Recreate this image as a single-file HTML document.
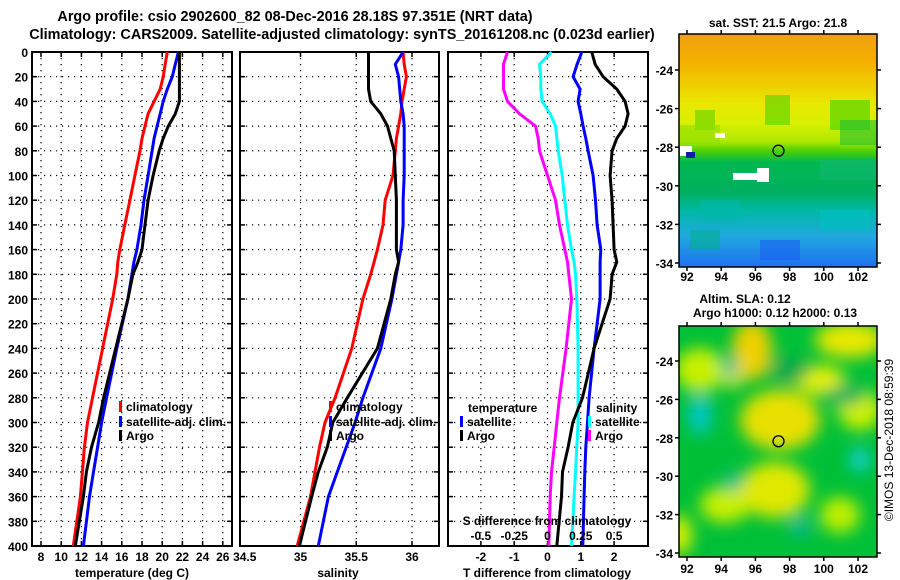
<!DOCTYPE html>
<html><head><meta charset="utf-8"><style>
body{margin:0;background:#fff}
svg{display:block;font-family:"Liberation Sans",sans-serif;font-weight:bold}
</style></head><body>
<svg id="c" width="900" height="580" viewBox="0 0 900 580">
<defs>
<linearGradient id="sstg" x1="0" y1="0" x2="0" y2="1">
<stop offset="0" stop-color="#f0a010"/><stop offset="0.12" stop-color="#f4b000"/><stop offset="0.2" stop-color="#f0c800"/>
<stop offset="0.3" stop-color="#e8e800"/><stop offset="0.38" stop-color="#d8f000"/><stop offset="0.46" stop-color="#b0e800"/><stop offset="0.5" stop-color="#50d000"/>
<stop offset="0.55" stop-color="#00b850"/><stop offset="0.68" stop-color="#00b060"/><stop offset="0.76" stop-color="#00b8a8"/>
<stop offset="0.87" stop-color="#20a8e0"/><stop offset="1" stop-color="#2070f0"/></linearGradient>
<filter id="blur" x="-50%" y="-50%" width="200%" height="200%"><feGaussianBlur stdDeviation="8"/></filter>
<clipPath id="clipB"><rect x="679" y="326" width="198" height="231"/></clipPath>
</defs>
<g id="root"></g>
</svg>
<script>
// ---- data ----
const depths = [0,10,20,30,40,50,60,70,80,100,120,140,160,170,180,200,240,280,300,320,340,360,400];
const tClim = [20.5,20.3,20.1,19.8,19.2,18.6,18.3,18.0,17.8,17.3,16.8,16.3,15.8,15.6,15.5,15.1,14.1,13.1,12.6,12.3,12.1,11.9,11.2];
const tSat  = [21.6,21.3,21.0,20.5,20.1,19.8,19.5,19.2,19.0,18.6,18.2,17.9,17.5,17.2,17.0,16.6,15.5,14.5,14.0,13.6,13.2,12.8,12.2];
const tArgo = [21.7,21.7,21.7,21.7,21.7,21.3,20.6,20.1,19.7,19.1,18.6,18.3,18.0,17.6,17.1,16.6,15.4,14.2,13.7,13.0,12.5,12.2,11.4];
const sClim = [35.92,35.93,35.95,35.93,35.91,35.9,35.88,35.86,35.85,35.83,35.76,35.74,35.69,35.66,35.63,35.56,35.46,35.31,35.22,35.17,35.13,35.09,34.97];
const sSat  = [35.92,35.85,35.88,35.89,35.9,35.92,35.93,35.93,35.93,35.93,35.92,35.92,35.9,35.88,35.86,35.82,35.72,35.56,35.49,35.41,35.33,35.25,35.16];
const sArgo = [35.61,35.61,35.61,35.61,35.63,35.72,35.78,35.81,35.84,35.85,35.86,35.86,35.86,35.88,35.85,35.81,35.69,35.42,35.29,35.24,35.16,35.1,34.99];
const dSArgo = [-0.30,-0.33,-0.33,-0.33,-0.30,-0.21,-0.09,-0.07,-0.06,0.0,0.06,0.09,0.13,0.15,0.16,0.18,0.14,0.09,0.07,0.05,0.03,0.02,0.01];
const dSSat  = [0.03,-0.06,-0.05,-0.05,-0.04,0.02,0.06,0.07,0.08,0.11,0.13,0.15,0.18,0.2,0.21,0.22,0.23,0.23,0.23,0.22,0.21,0.2,0.18];
const dTSat  = [1.03,0.89,0.77,0.98,0.92,1.0,1.07,1.15,1.22,1.37,1.44,1.49,1.6,1.58,1.58,1.58,1.4,1.25,1.2,1.15,1.12,1.1,1.06];
const dTArgo = [1.33,1.43,1.67,2.08,2.33,2.42,2.33,2.08,1.94,1.88,1.94,1.97,2.0,2.08,1.94,1.88,1.4,1.05,0.76,0.62,0.45,0.42,0.28];
const tTicks = [8,10,12,14,16,18,20,22,24,26];
const sTicks = [34.5,35,35.5,36];
const dTTicks = [-2,-1,0,1,2];
const dSTicks = [-0.5,-0.25,0,0.25,0.5];
const dSTickLabels = ['-0.5','-0.25','0','0.25','0.5'];
const depthTicks = [0,20,40,60,80,100,120,140,160,180,200,220,240,260,280,300,320,340,360,380,400];
const latTicks = [-24,-26,-28,-30,-32,-34];
const lonTicks = [92,94,96,98,100,102];

const NS='http://www.w3.org/2000/svg';
const root=document.getElementById('root');
function el(tag,attrs,parent){const e=document.createElementNS(NS,tag);for(const k in attrs)e.setAttribute(k,attrs[k]);(parent||root).appendChild(e);return e;}
function txt(x,y,s,size,anchor,fill,parent){const t=el('text',{x:x,y:y,'font-size':size,'text-anchor':anchor||'middle',fill:fill||'#000'},parent);t.textContent=s;return t;}

const yD = d => 52 + d*(494/400);
const xT = t => 41 + (t-8)*10.1;
const xS = s => 300.5 + (s-35)*111.5;
const xdT = v => 547.5 + v*33.3;
const xdS = v => 547.5 + v*133.2;

function panel(name,x0,x1,gridXs){
  const g=el('g',{});
  
  
  for(const d of depthTicks){ if(d>0&&d<400){ const gl=el('line',{x1:x0,x2:x1,y1:yD(d),y2:yD(d),stroke:'#000','stroke-width':1.2,'stroke-dasharray':'1.2,4.8'},g);  }
    el('line',{x1:x0,x2:x0+5,y1:yD(d),y2:yD(d),stroke:'#000','stroke-width':1.5},g);
    el('line',{x1:x1-5,x2:x1,y1:yD(d),y2:yD(d),stroke:'#000','stroke-width':1.5},g);}
  for(const gx of gridXs){ const gl=el('line',{x1:gx,x2:gx,y1:52,y2:546,stroke:'#000','stroke-width':1.2,'stroke-dasharray':'1.2,4.8'},g);  
    el('line',{x1:gx,x2:gx,y1:52,y2:57,stroke:'#000','stroke-width':1.5},g);
    el('line',{x1:gx,x2:gx,y1:541,y2:546,stroke:'#000','stroke-width':1.5},g);}
  const f=el('rect',{x:x0,y:52,width:x1-x0,height:494,fill:'none',stroke:'#000','stroke-width':2},g);
   
  return g;
}
function series(name,vals,xf,color,parent){
  const pts=vals.map((v,i)=>xf(v).toFixed(1)+','+yD(depths[i]).toFixed(1)).join(' ');
  const p=el('polyline',{points:pts,fill:'none',stroke:color,'stroke-width':3,'stroke-linejoin':'miter'},parent);
   
}
function legendEntry(name,x,y,color,label){
  const g=el('g',{});
   
  el('rect',{x:x,y:y-10,width:3,height:11,fill:color},g);
  txt(x+7,y,label,12,'start','#000',g);
}

// Titles
const t1=txt(295,21,'Argo profile: csio 2902600_82 08-Dec-2016 28.18S 97.351E (NRT data)',14.4);
 
const t2=txt(342,39,'Climatology: CARS2009. Satellite-adjusted climatology: synTS_20161208.nc (0.023d earlier)',14.4);
 

// Panel 1 temperature
const p1=panel('temperature-panel',32,232,tTicks.map(xT));
series('temp-climatology-line',tClim,xT,'#ff0000',p1);
series('temp-satellite-adj-line',tSat,xT,'#0000ff',p1);
series('temp-argo-line',tArgo,xT,'#000',p1);
for(const d of depthTicks){const l=txt(28,yD(d)+5,String(d),12,'end');  }
for(const t of tTicks){const l=txt(xT(t),561,String(t),12);  }
const xa1=txt(132,577,'temperature (deg C)',12);  
legendEntry('legend-entry-climatology',119,411,'#ff0000','climatology');
legendEntry('legend-entry-satellite-adj',119,426,'#0000ff','satellite-adj. clim.');
legendEntry('legend-entry-argo',119,440,'#000','Argo');

// Panel 2 salinity
const p2=panel('salinity-panel',240,439,[35,35.5,36].map(xS));
series('sal-climatology-line',sClim,xS,'#ff0000',p2);
series('sal-satellite-adj-line',sSat,xS,'#0000ff',p2);
series('sal-argo-line',sArgo,xS,'#000',p2);
for(const s of sTicks){const l=txt(xS(s),561,String(s),12);  }
const xa2=txt(338,577,'salinity',12);  
legendEntry('legend-entry-sal-climatology',329,411,'#ff0000','climatology');
legendEntry('legend-entry-sal-satellite-adj',329,426,'#0000ff','satellite-adj. clim.');
legendEntry('legend-entry-sal-argo',329,440,'#000','Argo');

// Panel 3 differences
const p3=panel('difference-panel',448,648,dTTicks.map(xdT));
series('sdiff-argo-line',dSArgo,xdS,'#ff00ff',p3);
series('sdiff-satellite-line',dSSat,xdS,'#00ffff',p3);
series('tdiff-satellite-line',dTSat,xdT,'#0000ff',p3);
series('tdiff-argo-line',dTArgo,xdT,'#000',p3);
for(const v of dTTicks){const l=txt(xdT(v),561,String(v),12);  }
dSTicks.forEach((v,i)=>{const l=txt(xdS(v),540,dSTickLabels[i],12);  });
const sa=txt(547,525,'S difference from climatology',12);  
const xa3=txt(547,577,'T difference from climatology',12);  
const lt=txt(468,412,'temperature',12,'start');  
legendEntry('legend-entry-tdiff-satellite',460,426,'#0000ff','satellite');
legendEntry('legend-entry-tdiff-argo',460,440,'#000','Argo');
const ls=txt(596,412,'salinity',12,'start');  
legendEntry('legend-entry-sdiff-satellite',588,426,'#00ffff','satellite');
legendEntry('legend-entry-sdiff-argo',588,440,'#ff00ff','Argo');

// Maps
function mapAxes(name,top,bottom,latY,lonLabelY){
  const g=el('g',{});
   
  const ly = lat => latY[0] + (-24-lat)/10*(latY[1]-latY[0]);
  const lx = lon => 687 + (lon-92)*17.1;
  for(const la of latTicks){el('line',{x1:877,x2:881,y1:ly(la),y2:ly(la),stroke:'#000','stroke-width':1.5},g); el('line',{x1:675,x2:679,y1:ly(la),y2:ly(la),stroke:'#000','stroke-width':1.5},g);
    const l=txt(673,ly(la)+5,String(la),12,'end','#000',g);
     }
  for(const lo of lonTicks){el('line',{x1:lx(lo),x2:lx(lo),y1:bottom,y2:bottom+4,stroke:'#000','stroke-width':1.5},g); el('line',{x1:lx(lo),x2:lx(lo),y1:top-4,y2:top,stroke:'#000','stroke-width':1.5},g);
    const l=txt(lx(lo),lonLabelY,String(lo),12,'middle','#000',g);  }
  el('rect',{x:679,y:top,width:198,height:bottom-top,fill:'none',stroke:'#000','stroke-width':1.5},g);
  const c=el('circle',{cx:lx(97.351),cy:ly(-28.18),r:5.5,fill:'none',stroke:'#000','stroke-width':1.3},g);
   
}
// top SST map
const sst=el('g',{});  
el('rect',{x:679,y:34,width:198,height:233,fill:'url(#sstg)'},sst);
[[695,110,20,20,'#60d000'],[765,95,25,30,'#50d000'],[830,100,40,30,'#40d000'],[840,120,37,25,'#20c030'],[680,125,40,20,'#90e000'],[700,200,40,20,'#00b8a8'],[820,210,50,20,'#00c0c0'],[760,240,40,20,'#1a60f0'],[690,230,30,20,'#00b090'],[820,160,57,20,'#10b870']].forEach(r=>el('rect',{x:r[0],y:r[1],width:r[2],height:r[3],fill:r[4],opacity:0.6},sst));
[[715,133,10,5],[680,146,12,10],[733,173,35,7],[757,168,12,14]].forEach(r=>el('rect',{x:r[0],y:r[1],width:r[2],height:r[3],fill:'#fff'},sst));
el('rect',{x:686,y:152,width:9,height:6,fill:'#1020a0'},sst);
const st=txt(778,27,'sat. SST: 21.5 Argo: 21.8',12);  
mapAxes('sst-map-axes',34,267,[70,263],281);

// bottom SLA map
const sla=el('g',{'clip-path':'url(#clipB)'});  
el('rect',{x:679,y:326,width:198,height:231,fill:'#00c038'},sla);
const blobs=el('g',{filter:'url(#blur)'},sla);
[[752,350,20,30,'#f0d000'],[850,340,35,18,'#e8e800'],[700,370,25,22,'#c8f000'],[733,376,10,12,'#f0f000'],[790,420,30,22,'#f0b000'],[780,420,40,30,'#e8e000'],[725,505,25,18,'#c8f000'],[775,490,35,28,'#e0e800'],[860,410,22,20,'#d0f000'],[680,535,12,20,'#e0f000'],[840,515,20,18,'#c0f000'],[820,380,25,15,'#e8f000'],
 [700,415,12,20,'#00c8c8'],[730,368,8,10,'#00b8a8'],[860,460,10,12,'#10d0e0'],[733,482,9,9,'#00b8a0'],[800,527,9,10,'#00b8a8'],[845,395,20,10,'#00b060'],[790,370,20,12,'#00a850']].forEach(b=>el('ellipse',{cx:b[0],cy:b[1],rx:b[2],ry:b[3],fill:b[4]},blobs));
const s1=txt(745,303,'Altim. SLA: 0.12',12);  
const s2=txt(775,317,'Argo h1000: 0.12 h2000: 0.13',12);  
mapAxes('sla-map-axes',326,557,[361,553],573);

const cp=el('text',{x:0,y:0,'font-size':12,'font-weight':'normal','text-anchor':'middle',transform:'translate(893,440) rotate(-90)'});
cp.textContent='©IMOS 13-Dec-2018 08:59:39';
 
</script>
</body></html>
